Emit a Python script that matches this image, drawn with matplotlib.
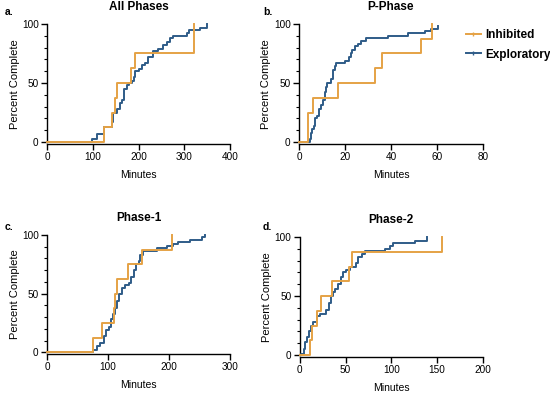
import matplotlib
matplotlib.use("Agg")
import matplotlib.pyplot as plt
from matplotlib.lines import Line2D
from matplotlib.ticker import MultipleLocator

plt.rcParams['font.family'] = ['Liberation Sans', 'DejaVu Sans']

ORANGE = '#E5A245'
BLUE = '#2F5C88'

# step curves: (time in minutes, percent complete)
all_inh_t = [0, 125, 142, 149, 152, 184, 192, 321]
all_inh_y = [0, 12.5, 25, 37.5, 50, 62.5, 75, 100]
all_exp_t = [0, 98, 109, 125, 141, 143, 152, 160, 163, 168, 174, 178, 185, 189, 192, 200, 207, 214,
             221, 232, 243, 254, 262, 269, 276, 305, 309, 334, 349]
all_exp_y = [0, 2.5, 7, 12.5, 17, 25, 28, 33, 36, 45, 48, 50, 52, 55, 60, 62, 65, 67,
             72, 77, 79, 82, 85, 88, 90, 92, 95, 97, 100]

p_inh_t = [0, 4, 6, 17, 33, 36, 53, 58]
p_inh_y = [0, 25, 37.5, 50, 62.5, 75, 87.5, 100]
p_exp_t = [0, 4.6, 5.1, 5.7, 6.4, 7.1, 7.8, 8.6, 9.7, 10.4, 11.2, 11.9, 12.3, 14, 15, 15.5, 16,
           20.1, 21.6, 22.5, 23, 24.5, 25.7, 26.8, 29.3, 38.7, 47.4, 54.6, 57.5, 60.4]
p_exp_y = [0, 2.5, 8, 11, 14, 20, 22, 28, 31, 36, 42, 47, 50, 53, 61, 64, 67,
           69, 72, 75, 78, 81, 83, 86, 88, 90, 92, 94, 96, 98]

p1_inh_t = [0, 75, 90, 109, 112, 115, 133, 155, 205]
p1_inh_y = [0, 12.5, 25, 37.5, 50, 62.5, 75, 87.5, 100]
p1_exp_t = [0, 75, 82, 87, 93, 97, 101, 105, 108, 112, 115, 118, 123, 128, 134, 137, 142, 146,
            150, 153, 157, 180, 196, 207, 215, 235, 254, 259]
p1_exp_y = [0, 2, 5, 8, 14, 19, 22, 28, 33, 38, 44, 50, 55, 57, 59, 64, 70, 75,
            78, 83, 86, 89, 91, 92, 94, 96, 98, 100]

p2_inh_t = [0, 11, 13.5, 19.3, 23.7, 35.4, 53.6, 57.3, 155]
p2_inh_y = [0, 12.5, 25, 37.5, 50, 62.5, 75, 87.5, 100]
p2_exp_t = [0, 1, 4.7, 6.2, 8, 9.9, 12, 14.2, 19.3, 21.9, 29, 32, 34, 36.5, 39, 42, 44.5, 47.4,
            50, 54.7, 61.3, 64, 68, 71, 93, 98.5, 102, 126, 139]
p2_exp_y = [0, 1, 5, 11, 15, 20, 25, 28, 33, 35, 38, 44, 50, 53, 56, 60, 66, 70,
            72, 75, 78, 83, 86, 88, 90, 92, 95, 97, 100]

panels = [
    ('a.', 'All Phases', [0.0855, 0.634, 0.333, 0.305], 400, 100, all_inh_t, all_inh_y, all_exp_t, all_exp_y),
    ('b.', 'P-Phase', [0.5436, 0.634, 0.3345, 0.305], 80, 20, p_inh_t, p_inh_y, p_exp_t, p_exp_y),
    ('c.', 'Phase-1', [0.0855, 0.099, 0.333, 0.303], 300, 100, p1_inh_t, p1_inh_y, p1_exp_t, p1_exp_y),
    ('d.', 'Phase-2', [0.545, 0.092, 0.333, 0.305], 200, 50, p2_inh_t, p2_inh_y, p2_exp_t, p2_exp_y),
]

fig = plt.figure(figsize=(5.5, 3.93), dpi=100)

for letter, title, pos, xmax, xstep, it, iy, et, ey in panels:
    ax = fig.add_axes(pos)
    ax.step(et, ey, where='post', color=BLUE, lw=1.4, clip_on=False, zorder=3)
    ax.step(it, iy, where='post', color=ORANGE, lw=1.4, clip_on=False, zorder=4)
    ax.set_xlim(0, xmax)
    ax.set_ylim(-1.5, 100)
    ax.xaxis.set_major_locator(MultipleLocator(xstep))
    ax.set_yticks([0, 50, 100])
    ax.yaxis.set_minor_locator(MultipleLocator(10))
    ax.spines['top'].set_visible(False)
    ax.spines['right'].set_visible(False)
    ax.spines['left'].set_bounds(0, 100)
    for s in ('left', 'bottom'):
        ax.spines[s].set_linewidth(1.0)
    ax.tick_params(which='major', length=4, width=1.0, labelsize=7.2, pad=2)
    ax.tick_params(which='minor', length=2.5, width=0.8)
    ax.set_xlabel('Minutes', fontsize=7.5)
    ax.xaxis.set_label_coords(0.5, -0.215)
    ax.set_ylabel('Percent Complete', fontsize=8)
    ax.yaxis.set_label_coords(-0.15, 0.5)
    ax.text(0.5, 1.14, title, transform=ax.transAxes, ha='center', va='center',
            fontsize=8.5, fontweight='bold')

fig.text(5 / 550, 1 - 12 / 393, 'a.', fontsize=7.5, fontweight='bold', va='center')
fig.text(263 / 550, 1 - 12 / 393, 'b.', fontsize=7.5, fontweight='bold', va='center')
fig.text(5 / 550, 1 - 227 / 393, 'c.', fontsize=7.5, fontweight='bold', va='center')
fig.text(263 / 550, 1 - 227 / 393, 'd.', fontsize=7.5, fontweight='bold', va='center')

handles = [Line2D([], [], color=ORANGE, lw=1.4, marker='|', markersize=3),
           Line2D([], [], color=BLUE, lw=1.4, marker='|', markersize=3)]
fig.legend(handles, ['Inhibited', 'Exploratory'], loc='upper left',
           bbox_to_anchor=(0.848, 0.925), frameon=False, handlelength=1.2,
           handletextpad=0.4, borderpad=0.0, borderaxespad=0.0,
           prop={'weight': 'bold', 'size': 8.5}, labelspacing=0.6)

fig.savefig('out.png', dpi=100)
